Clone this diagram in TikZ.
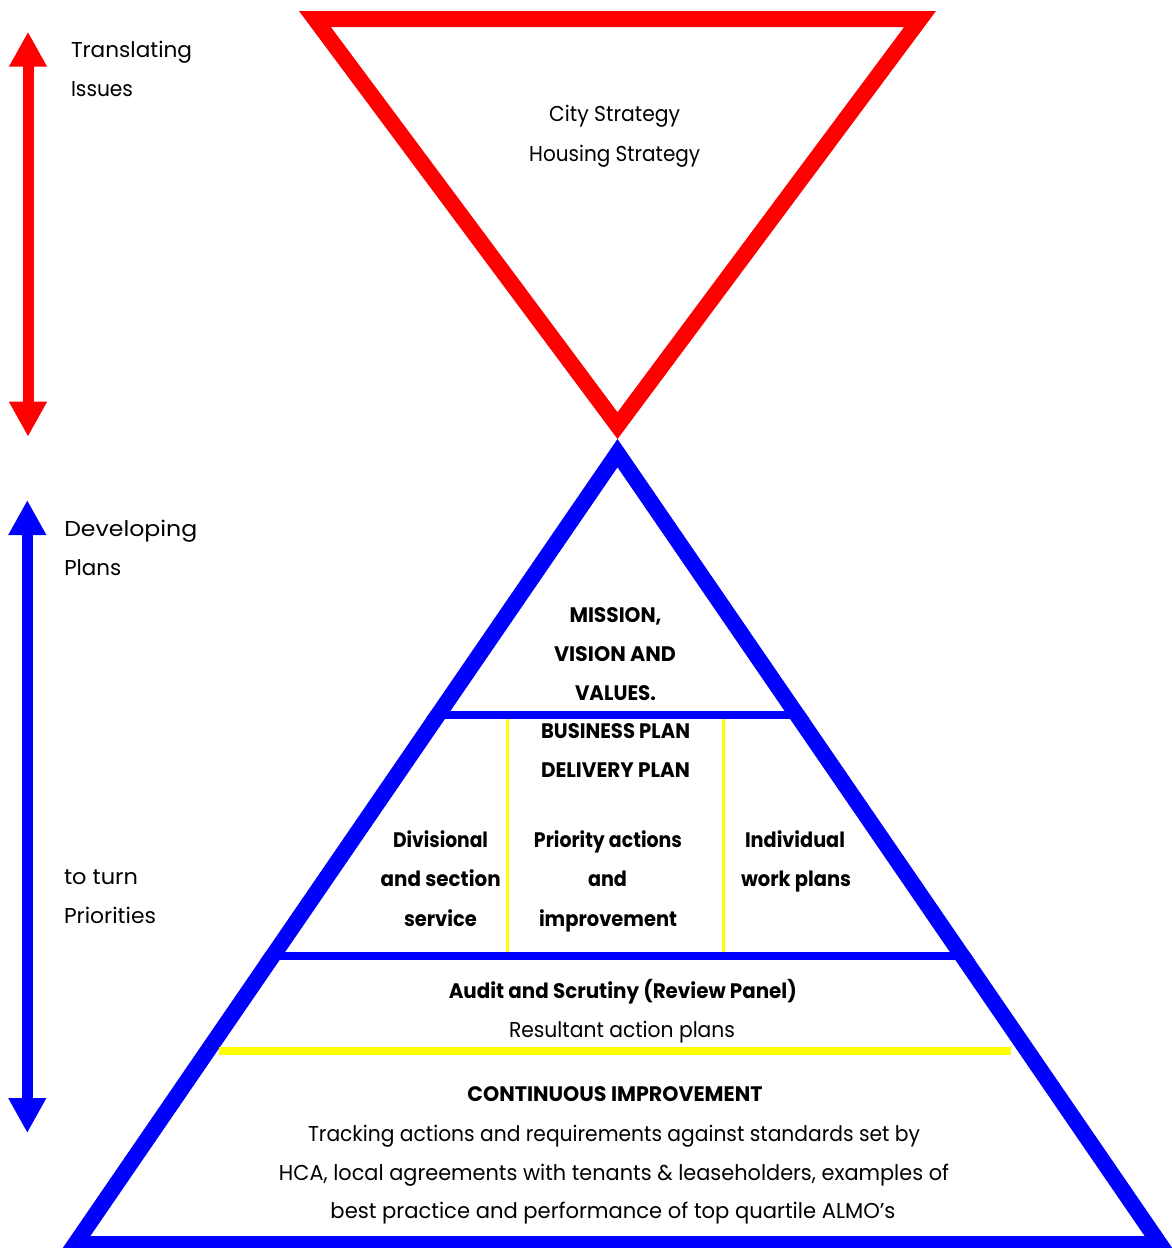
\documentclass[tikz,border=0pt]{standalone}
\usepackage{fontspec}
\setmainfont{Poppins}
\usetikzlibrary{arrows.meta}
\definecolor{cred}{RGB}{255,0,0}
\definecolor{cblue}{RGB}{0,0,255}
\definecolor{cyel}{RGB}{255,255,0}
\newcommand{\fitw}[2]{\resizebox{#1pt}{\height}{#2}}
\begin{document}
\begin{tikzpicture}[x=1pt,y=-1pt,
  txt/.style={inner sep=0pt, outer sep=0pt, anchor=base, font=\fontsize{21.5}{26}\selectfont},
  ltxt/.style={txt, anchor=base west},
  btxt/.style={txt, font=\fontsize{21}{26}\selectfont\bfseries},
  tip/.tip={Triangle[length=35pt 0 0,width=35.5pt 0 0]},
  dblarrow/.style={line width=11pt, {tip}-{tip}},
  frame/.style={line width=32pt, line join=miter},
  bluebar/.style={cblue, line width=8pt},
  yelbar/.style={cyel, line width=3.5pt}
]
\useasboundingbox[fill=white] (0,0) rectangle (1171,1248);

% red inverted triangle
\coordinate (rA) at (299,11);
\coordinate (rB) at (936,11);
\coordinate (rC) at (617.5,439);
\begin{scope}
  \clip (rA) -- (rB) -- (rC) -- cycle;
  \draw[frame, cred] (rA) -- (rB) -- (rC) -- cycle;
\end{scope}

% blue pyramid
\coordinate (bA) at (617.5,439);
\coordinate (bB) at (60,1252);
\coordinate (bC) at (1175,1252);
\coordinate (y1t) at (507.5,715);
\coordinate (y1b) at (507.5,955);
\coordinate (y2t) at (723.3,715);
\coordinate (y2b) at (723.3,955);
\coordinate (h1l) at (0,715);
\coordinate (h1r) at (1171,715);
\coordinate (h2l) at (0,955.5);
\coordinate (h2r) at (1171,955.5);
\coordinate (y3l) at (219,1051);
\coordinate (y3r) at (1011,1051);
\begin{scope}
  \clip (bA) -- (bB) -- (bC) -- cycle;
  \draw[frame, cblue] (bA) -- (bB) -- (bC) -- cycle;
  \draw[yelbar] (y1t) -- (y1b);
  \draw[yelbar] (y2t) -- (y2b);
  \draw[bluebar] (h1l) -- (h1r);
  \draw[bluebar] (h2l) -- (h2r);
\end{scope}
\draw[cyel, line width=7.7pt] (y3l) -- (y3r);

% side arrows
\coordinate (ra1) at (28,31.7);
\coordinate (ra2) at (28,436.7);
\coordinate (ba1) at (27.3,500);
\coordinate (ba2) at (27.3,1133);
\draw[dblarrow, cred] (ra1) -- (ra2);
\draw[dblarrow, cblue] (ba1) -- (ba2);

% left labels
\node[ltxt] (t1) at (71,57.3) {\fitw{121}{Translating}};
\node[ltxt] (t2) at (71,96.5) {\fitw{62}{Issues}};
\node[ltxt] (d1) at (64.3,536) {\fitw{133}{Developing}};
\node[ltxt] (d2) at (64.3,575.2) {\fitw{57}{Plans}};
\node[ltxt] (p1) at (64,884) {\fitw{74}{to turn}};
\node[ltxt] (p2) at (64,923.2) {\fitw{92}{Priorities}};

% red triangle text
\node[txt] (c1) at (614.7,121.7) {\fitw{131}{City Strategy}};
\node[txt] (c2) at (614.7,161) {\fitw{171}{Housing Strategy}};

% pyramid text
\node[btxt] (m1) at (615.5,622.3) {\fitw{92}{MISSION,}};
\node[btxt] (m2) at (615,661.7) {\fitw{122}{VISION AND}};
\node[btxt] (m3) at (615.5,700) {\fitw{81}{VALUES.}};
\node[btxt] (bp1) at (615.5,738.3) {\fitw{149}{BUSINESS PLAN}};
\node[btxt] (bp2) at (615.5,777.7) {\fitw{149}{DELIVERY PLAN}};

\node[btxt] (dv1) at (440.5,847.3) {\fitw{95}{Divisional}};
\node[btxt] (dv2) at (440.7,886.7) {\fitw{120}{and section}};
\node[btxt] (dv3) at (440.5,926) {\fitw{73}{service}};
\node[btxt] (pa1) at (608,847.3) {\fitw{148}{Priority actions}};
\node[btxt] (pa2) at (607.5,886.7) {\fitw{39}{and}};
\node[btxt] (pa3) at (608,926) {\fitw{138}{improvement}};
\node[btxt] (iw1) at (795,847.3) {\fitw{100}{Individual}};
\node[btxt] (iw2) at (796,886.7) {\fitw{110}{work plans}};

\node[btxt] (au1) at (622.8,998.3) {\fitw{348}{Audit and Scrutiny (Review Panel)}};
\node[txt] (au2) at (622,1037.3) {\fitw{226}{Resultant action plans}};

\node[btxt] (ci1) at (615,1101.7) {\fitw{295}{CONTINUOUS IMPROVEMENT}};
\node[txt] (ci2) at (614,1141) {\fitw{612}{Tracking actions and requirements against standards set by}};
\node[txt] (ci3) at (614,1180) {\fitw{670}{HCA, local agreements with tenants \& leaseholders, examples of}};
\node[txt] (ci4) at (613,1218.3) {\fitw{565}{best practice and performance of top quartile ALMO’s}};
\end{tikzpicture}
\end{document}
